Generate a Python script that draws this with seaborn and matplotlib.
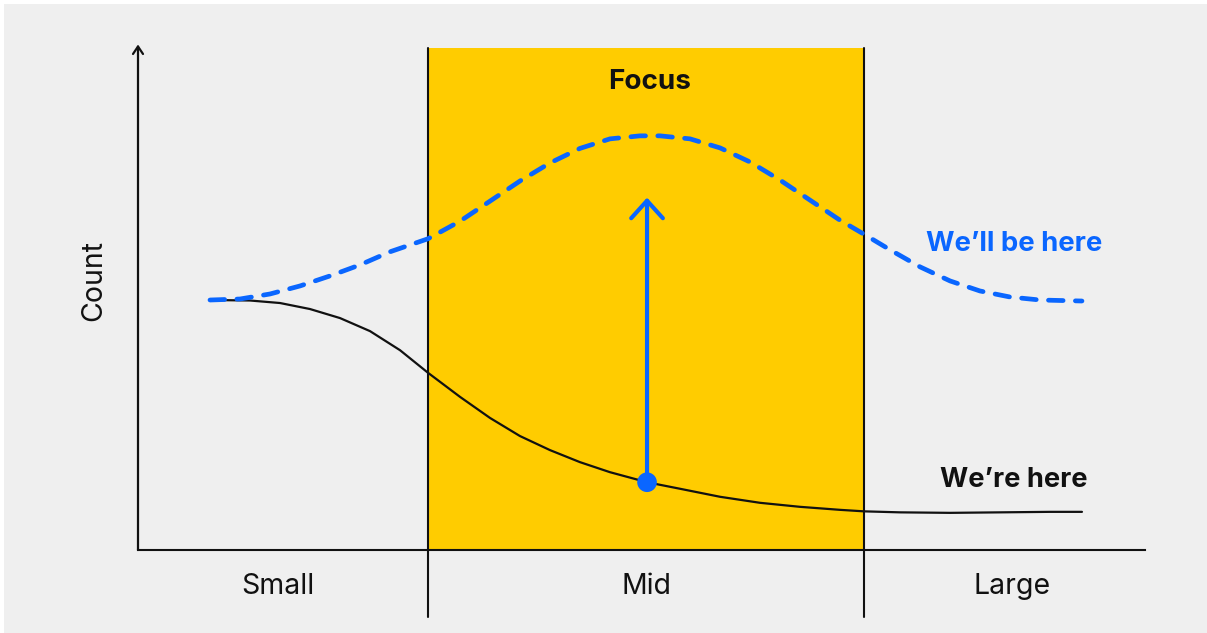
import numpy as np
import pandas as pd
import matplotlib
matplotlib.use("Agg")
import matplotlib.pyplot as plt
import seaborn as sns

# ---- data (x: 0-100 along the axis, y: 0-100 count scale) ----
future_x = [7.15, 10.13, 13.11, 16.09, 19.07, 22.05, 25.02, 28.80, 31.98, 34.96, 37.93,
            40.91, 43.89, 46.87, 49.85, 51.84, 54.82, 57.80, 60.77, 63.75, 66.73, 69.71,
            72.10, 74.68, 77.66, 80.64, 83.61, 86.59, 89.57, 93.74]
future_y = [49.8, 50.0, 51.0, 52.6, 54.6, 56.8, 59.4, 62.0, 65.5, 69.5, 73.5,
            77.1, 80.0, 81.9, 82.5, 82.5, 81.9, 80.1, 77.3, 73.7, 69.7, 65.7,
            62.9, 59.8, 56.4, 53.6, 51.6, 50.4, 49.8, 49.6]
current_x = [7.15, 11.12, 14.10, 17.08, 20.06, 23.04, 26.02, 28.80, 31.98, 34.96, 37.93,
             40.91, 43.89, 46.87, 50.55, 53.82, 57.80, 61.77, 65.74, 69.71, 72.10, 75.67,
             80.64, 85.60, 90.57, 93.74]
current_y = [49.8, 49.7, 49.2, 48.0, 46.2, 43.6, 39.8, 35.3, 30.5, 26.3, 22.7,
             19.9, 17.5, 15.5, 13.5, 12.2, 10.6, 9.4, 8.6, 8.0, 7.7, 7.5,
             7.4, 7.5, 7.6, 7.6]
band_edges = [28.8, 72.1]
categories = ["Small", "Mid", "Large"]
category_pos = [13.9, 50.5, 86.8]
arrow_x = 50.55
arrow_from = 13.5
arrow_to = 70.2

BG = "#efefef"
YELLOW = "#ffcc00"
BLUE = "#0a66ff"
DARK = "#111111"

sns.set_theme(style="white")
plt.rcParams['font.family'] = ['Inter', 'DejaVu Sans']

fig = plt.figure(figsize=(12.07, 6.33), dpi=100, facecolor="white")
# grey panel with thin white border at top/left
fig.patches.append(plt.Rectangle((4/1207, 0), 1, 1 - 4/633, transform=fig.transFigure,
                                 facecolor=BG, edgecolor="none", zorder=-10))
ax = fig.add_axes([138/1207, (633-550)/633, (1145-138)/1207, (550-48)/633])
ax.set_zorder(5)
ax.set_facecolor("none")
ax.patch.set_alpha(0)
ax.set_xlim(0, 100)
ax.set_ylim(0, 100)

# focus band
ax.axvspan(band_edges[0], band_edges[1], ymin=0, ymax=1.0, color=YELLOW, zorder=1, lw=0)
for e in band_edges:
    ax.axvline(e, ymin=-0.134, ymax=1.0, color=DARK, lw=1.5, clip_on=False, zorder=2)

df_future = pd.DataFrame({"x": future_x, "y": future_y})
df_current = pd.DataFrame({"x": current_x, "y": current_y})
sns.lineplot(data=df_current, x="x", y="y", ax=ax, color=DARK, lw=1.6, zorder=3,
             sort=False, estimator=None)
sns.lineplot(data=df_future, x="x", y="y", ax=ax, color=BLUE, lw=3.4, zorder=3,
             sort=False, estimator=None, linestyle=(0, (3.1, 2.6)))
for l in ax.lines:
    l.set_dash_capstyle("round")
    l.set_solid_joinstyle("round")

# arrow
ax.annotate("", xy=(arrow_x, arrow_to), xytext=(arrow_x, arrow_from),
            arrowprops=dict(arrowstyle="->,head_length=1.05,head_width=0.95", color=BLUE,
                            lw=3.0, shrinkA=0, shrinkB=0), zorder=4)
sns.scatterplot(x=[arrow_x], y=[arrow_from], ax=ax, color=BLUE, s=200, zorder=5,
                edgecolor="none")

# axes
for s in ["top", "right", "left"]:
    ax.spines[s].set_visible(False)
ax.spines["bottom"].set_color(DARK)
ax.spines["bottom"].set_linewidth(1.5)
ax.annotate("", xy=(0, 100.7), xytext=(0, 0),
            arrowprops=dict(arrowstyle="->,head_length=0.45,head_width=0.3", color=DARK,
                            lw=1.6, shrinkA=0, shrinkB=0), annotation_clip=False, zorder=6)

ax.set_xticks([])
ax.set_yticks([])
ax.set_xlabel("")
ax.set_ylabel("")

for c, p in zip(categories, category_pos):
    ax.text(p, -7.2, c, ha="center", va="center", fontsize=20.5, color="#111111")
ax.text(-4.4, 53.6, "Count", rotation=90, ha="center", va="center", fontsize=20.5,
        color="#111111")
ax.text(50.8, 93.2, "Focus", ha="center", va="center", fontsize=20, fontweight="bold",
        color="#111111", zorder=6)
ax.text(87.0, 60.9, "We\u2019ll be here", ha="center", va="center", fontsize=19.8,
        fontweight="bold", color=BLUE)
ax.text(87.0, 13.9, "We\u2019re here", ha="center", va="center", fontsize=19.6,
        fontweight="bold", color="#111111")

fig.savefig("out.png", dpi=100, facecolor=fig.get_facecolor())
